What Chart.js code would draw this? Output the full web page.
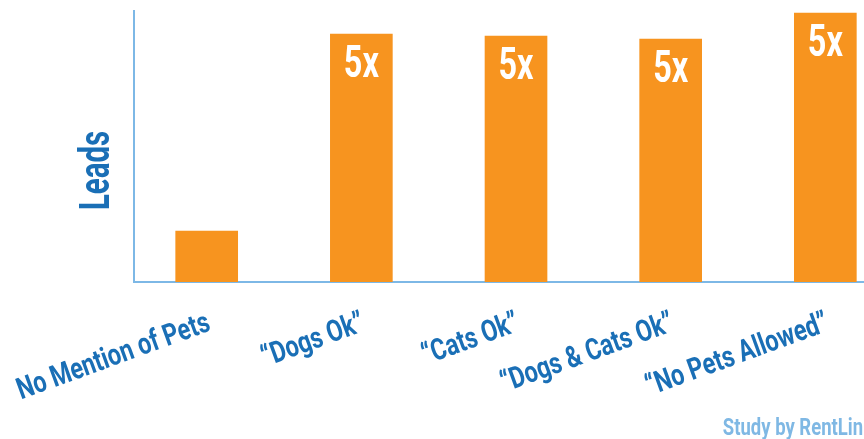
<!DOCTYPE html>
<html>
<head>
<meta charset="utf-8">
<script src="https://cdn.jsdelivr.net/npm/chart.js@4"></script>
<style>
html,body{margin:0;padding:0;background:#fff;overflow:hidden;}
#wrap{width:864px;height:439px;position:relative;}
</style>
</head>
<body>
<div id="wrap"><canvas id="c" width="864" height="439"></canvas></div>
<script>
const categories = ["No Mention of Pets", "\u201CDogs Ok\u201D", "\u201CCats Ok\u201D", "\u201CDogs & Cats Ok\u201D", "\u201CNo Pets Allowed\u201D"];
const leads = [1.0, 4.86, 4.82, 4.76, 5.27];
const barLabels = ["", "5x", "5x", "5x", "5x"];
const yTitle = "Leads";
const sourceNote = "Study by RentLin";

const FONT = "Roboto, 'Liberation Sans', sans-serif";
const BLUE = '#1A6FB6';
const ORANGE = '#F7941F';
const AXIS = '#7DB8E6';
const NOTE = '#7FB8E4';

// draw horizontally condensed text
function condText(ctx, text, x, y, size, sx, align, baseline, angle, color) {
  ctx.save();
  ctx.translate(x, y);
  ctx.rotate(angle);
  ctx.scale(sx, 1);
  ctx.font = "bold " + size + "px " + FONT;
  ctx.fillStyle = color;
  ctx.textAlign = align;
  ctx.textBaseline = baseline;
  ctx.fillText(text, 0, 0);
  ctx.restore();
}

const textPlugin = {
  id: 'texts',
  afterDatasetsDraw(chart) {
    const ctx = chart.ctx;
    const meta = chart.getDatasetMeta(0);
    meta.data.forEach((bar, i) => {
      if (barLabels[i]) condText(ctx, barLabels[i], bar.x, bar.y + 43, 45, 0.72, 'center', 'alphabetic', 0, '#ffffff');
    });
  },
  afterDraw(chart) {
    const ctx = chart.ctx;
    const xs = chart.scales.x;
    const base = chart.chartArea.bottom;
    xs.ticks.forEach((t, i) => {
      const px = xs.getPixelForTick(i);
      const lbl = categories[t.value];
      if (lbl !== undefined) condText(ctx, lbl, px + 5, base + 48, 30, 0.78, 'right', 'alphabetic', -20 * Math.PI / 180, BLUE);
    });
    // y axis title
    condText(ctx, yTitle, chart.chartArea.left - 25, (chart.chartArea.top + base) / 2 + 24, 42, 0.7, 'center', 'alphabetic', -Math.PI / 2, BLUE);
    // source note
    condText(ctx, sourceNote, 863, 435, 24, 0.77, 'right', 'alphabetic', 0, NOTE);
  }
};

new Chart(document.getElementById('c'), {
  type: 'bar',
  data: {
    datasets: [{
      data: leads.map((v, i) => ({x: i, y: v})),
      backgroundColor: ORANGE,
      borderWidth: 0,
      barThickness: 62
    }]
  },
  options: {
    responsive: false,
    animation: false,
    layout: {padding: {top: 11, left: 0, right: 0, bottom: 0}},
    plugins: {legend: {display: false}, tooltip: {enabled: false}},
    scales: {
      x: {
        type: 'linear',
        offset: false,
        min: -0.47,
        max: 4.25,
        afterBuildTicks(scale) {
          scale.ticks = categories.map((c, i) => ({value: i}));
        },
        afterFit(scale) {
          scale.height = 157;
          scale.paddingLeft = 0;
          scale.paddingRight = 0;
        },
        grid: {display: false, drawTicks: false, offset: false},
        border: {display: true, color: AXIS, width: 2},
        ticks: {display: false}
      },
      y: {
        min: 0,
        max: 5.31,
        afterFit(scale) { scale.width = 134; },
        grid: {display: false, drawTicks: false},
        border: {display: true, color: AXIS, width: 2},
        ticks: {display: false}
      }
    }
  },
  plugins: [textPlugin]
});
</script>
</body>
</html>
